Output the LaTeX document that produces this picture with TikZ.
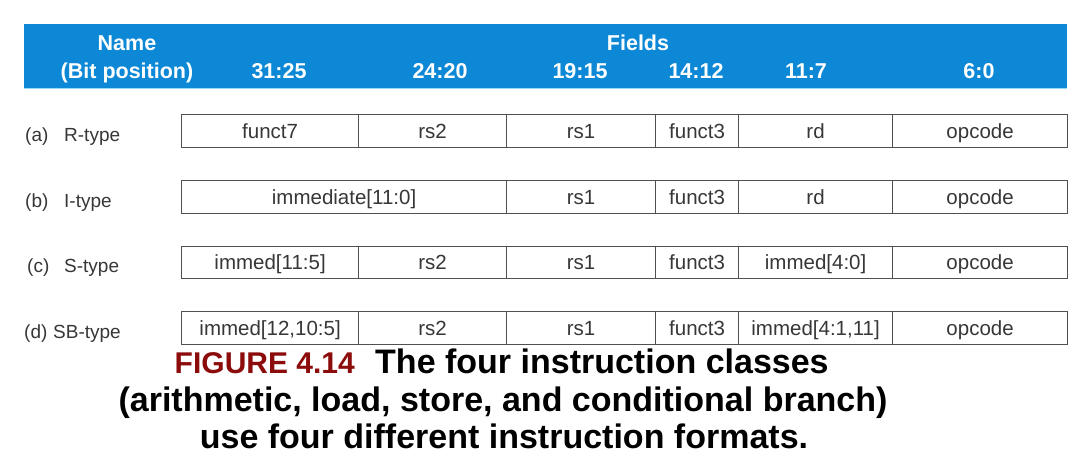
\documentclass[tikz,border=0pt]{standalone}
\usepackage{fontspec}
\setmainfont{Liberation Sans}
\definecolor{banner}{RGB}{12,136,214}
\definecolor{bline}{RGB}{150,215,245}
\definecolor{boxline}{RGB}{80,80,80}
\definecolor{boxtext}{RGB}{55,55,55}
\definecolor{figred}{RGB}{140,12,12}
\begin{document}
\begin{tikzpicture}[x=1pt,y=-1pt,
  hdr/.style={text=white, font=\fontsize{21.5}{24}\selectfont\bfseries, inner sep=0pt, anchor=base},
  fld/.style={draw=boxline, line width=1.2pt, anchor=north west, minimum height=32.5pt,
              inner sep=0pt, text=boxtext, text height=15pt, text depth=0pt,
              font=\fontsize{20.5}{22}\selectfont},
  lbl/.style={text=boxtext, font=\fontsize{19}{22}\selectfont, inner sep=0pt, anchor=base west},
  capt/.style={font=\fontsize{34}{38}\selectfont\bfseries, inner sep=0pt}]
\useasboundingbox (0,0) rectangle (1090,456);
\fill[white] (0,0) rectangle (1090,456);
% banner
\node[fill=banner, minimum width=1043pt, minimum height=64pt, anchor=north west, inner sep=0pt] (banner) at (24,24) {};
\draw[bline, line width=1.5pt] (banner.south west) -- (banner.south east);
\node[hdr] (hname) at (127,50) {Name};
\node[hdr] (hbit) at (127,78) {(Bit position)};
\node[hdr] (hfields) at (638,50) {Fields};
\node[hdr] (h1) at (279,78) {31:25};
\node[hdr] (h2) at (440,78) {24:20};
\node[hdr] (h3) at (580,78) {19:15};
\node[hdr] (h4) at (696,78) {14:12};
\node[hdr] (h5) at (806,78) {11:7};
\node[hdr] (h6) at (979,78) {6:0};
% row a
\node[lbl] (la1) at (25,141) {(a)};
\node[lbl] (la2) at (64,141) {R-type};
\node[fld, minimum width=177pt] (a1) at (181,114) {funct7};
\node[fld, minimum width=148pt] (a2) at (358,114) {rs2};
\node[fld, minimum width=149pt] (a3) at (506,114) {rs1};
\node[fld, minimum width=83pt] (a4) at (655,114) {funct3};
\node[fld, minimum width=154pt] (a5) at (738,114) {rd};
\node[fld, minimum width=175pt] (a6) at (892,114) {opcode};
% row b
\node[lbl] (lb1) at (25,207) {(b)};
\node[lbl] (lb2) at (64,207) {I-type};
\node[fld, minimum width=325pt] (b1) at (181,180) {immediate[11:0]};
\node[fld, minimum width=149pt] (b3) at (506,180) {rs1};
\node[fld, minimum width=83pt] (b4) at (655,180) {funct3};
\node[fld, minimum width=154pt] (b5) at (738,180) {rd};
\node[fld, minimum width=175pt] (b6) at (892,180) {opcode};
% row c
\node[lbl] (lc1) at (27,272.5) {(c)};
\node[lbl] (lc2) at (64,272.5) {S-type};
\node[fld, minimum width=177pt] (c1) at (181,245.5) {immed[11:5]};
\node[fld, minimum width=148pt] (c2) at (358,245.5) {rs2};
\node[fld, minimum width=149pt] (c3) at (506,245.5) {rs1};
\node[fld, minimum width=83pt] (c4) at (655,245.5) {funct3};
\node[fld, minimum width=154pt] (c5) at (738,245.5) {immed[4:0]};
\node[fld, minimum width=175pt] (c6) at (892,245.5) {opcode};
% row d
\node[lbl] (ld1) at (24,338) {(d)};
\node[lbl] (ld2) at (53,338) {SB-type};
\node[fld, minimum width=177pt] (d1) at (181,311) {immed[12,10:5]};
\node[fld, minimum width=148pt] (d2) at (358,311) {rs2};
\node[fld, minimum width=149pt] (d3) at (506,311) {rs1};
\node[fld, minimum width=83pt] (d4) at (655,311) {funct3};
\node[fld, minimum width=154pt] (d5) at (738,311) {immed[4:1,11]};
\node[fld, minimum width=175pt] (d6) at (892,311) {opcode};
% caption
\node[capt, font=\fontsize{30}{34}\selectfont\bfseries, text=figred, anchor=base east] (fig) at (355,373) {FIGURE 4.14};
\node[capt, anchor=base west] (cap1) at (375,373) {The four instruction classes};
\node[capt, anchor=base] (cap2) at (503,411) {(arithmetic, load, store, and conditional branch)};
\node[capt, anchor=base] (cap3) at (504,448) {use four different instruction formats.};
\end{tikzpicture}
\end{document}
